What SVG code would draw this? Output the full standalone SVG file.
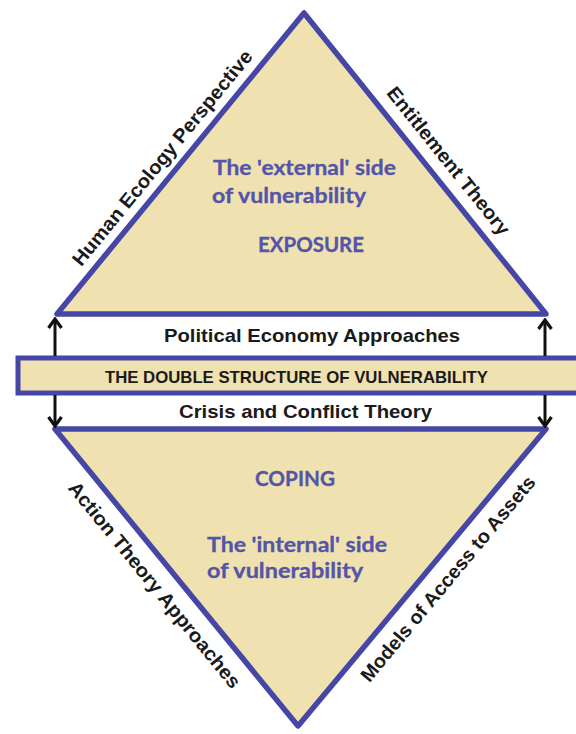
<svg xmlns="http://www.w3.org/2000/svg" width="576" height="734" viewBox="0 0 576 734">
<style>
.tri{fill:#efe2b0;stroke:#4646a6;stroke-width:5.5;stroke-linejoin:round}
.band{fill:#efe2b0;stroke:#4646a6;stroke-width:5}
.blue{font-family:Lato,"Open Sans",sans-serif;font-weight:700;font-size:20px;fill:#5454a8;stroke:#5454a8;stroke-width:0.3}
.blk{font-family:"Liberation Sans",Arial,sans-serif;font-weight:700;fill:#1a1a1a}
.side{font-size:19.5px;text-anchor:middle}
.arr{stroke:#111;stroke-width:3;fill:none}
</style>
<defs>
<marker id="ah" viewBox="-12 -9 14 18" markerWidth="14" markerHeight="18" refX="0" refY="0" orient="auto" markerUnits="userSpaceOnUse">
<path d="M-9,-6.5 L0,0 L-9,6.5" fill="none" stroke="#111" stroke-width="3.2" stroke-linejoin="miter"/>
</marker>
</defs>
<g id="upper-triangle">
<polygon class="tri" points="57,314 546,314 304,13"/>
<text class="blue" x="213" y="175" textLength="183" lengthAdjust="spacingAndGlyphs">The 'external' side</text>
<text class="blue" x="212" y="203" textLength="154" lengthAdjust="spacingAndGlyphs">of vulnerability</text>
<text class="blue" x="258" y="252" textLength="106" lengthAdjust="spacingAndGlyphs">EXPOSURE</text>
</g>
<g id="lower-triangle">
<polygon class="tri" points="55,429 546,429 298,726"/>
<text class="blue" x="255" y="486" textLength="80" lengthAdjust="spacingAndGlyphs">COPING</text>
<text class="blue" x="207" y="552" textLength="180" lengthAdjust="spacingAndGlyphs">The 'internal' side</text>
<text class="blue" x="207" y="578" textLength="156" lengthAdjust="spacingAndGlyphs">of vulnerability</text>
</g>
<g id="band">
<rect class="band" x="18" y="358" width="600" height="35"/>
<text class="blk" x="105" y="383" font-size="17" textLength="383" lengthAdjust="spacingAndGlyphs">THE DOUBLE STRUCTURE OF VULNERABILITY</text>
</g>
<g id="political-economy">
<text class="blk" x="164" y="342" font-size="18.5" textLength="296" lengthAdjust="spacingAndGlyphs">Political Economy Approaches</text>
</g>
<g id="crisis-conflict">
<text class="blk" x="179" y="418" font-size="18.5" textLength="253" lengthAdjust="spacingAndGlyphs">Crisis and Conflict Theory</text>
</g>
<g id="human-ecology">
<text class="blk side" transform="translate(167.5,162.0) rotate(-50.7)" textLength="272" lengthAdjust="spacingAndGlyphs">Human Ecology Perspective</text>
</g>
<g id="entitlement">
<text class="blk side" transform="translate(443.2,165.0) rotate(51.3)" textLength="184" lengthAdjust="spacingAndGlyphs">Entitlement Theory</text>
</g>
<g id="action-theory">
<text class="blk side" transform="translate(149.4,589.0) rotate(50.8)" textLength="260" lengthAdjust="spacingAndGlyphs">Action Theory Approaches</text>
</g>
<g id="access-assets">
<text class="blk side" transform="translate(453.0,583.0) rotate(-50.2)" textLength="261" lengthAdjust="spacingAndGlyphs">Models of Access to Assets</text>
</g>
<g id="connectors">
<line class="arr" x1="55" y1="356" x2="55" y2="319" marker-end="url(#ah)"/>
<line class="arr" x1="55" y1="395" x2="55" y2="426" marker-end="url(#ah)"/>
<line class="arr" x1="545" y1="356" x2="545" y2="320" marker-end="url(#ah)"/>
<line class="arr" x1="545" y1="395" x2="545" y2="426" marker-end="url(#ah)"/>
</g>
</svg>
